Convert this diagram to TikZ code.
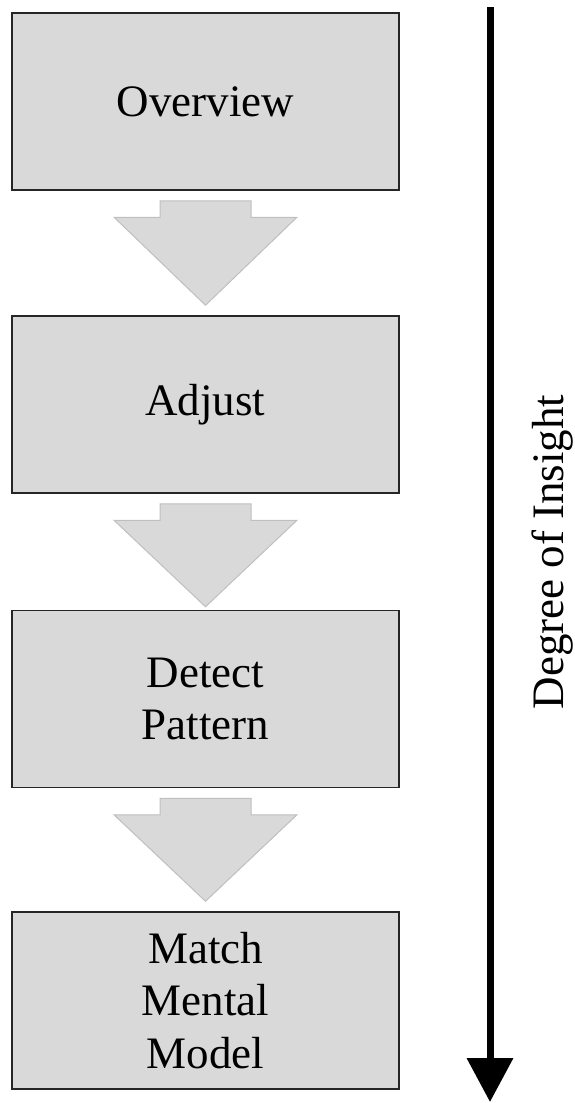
\documentclass[tikz,border=0pt]{standalone}
\usepackage{fontspec}
\setmainfont{Liberation Serif}
\usetikzlibrary{calc,arrows.meta}
\definecolor{boxfill}{HTML}{D9D9D9}
\definecolor{arrowedge}{HTML}{BFBFBF}
\tikzset{
  stagebox/.style={draw=black!85, line width=1.5pt, fill=boxfill,
    minimum width=387pt, minimum height=177pt, inner sep=0pt,
    align=center, font=\fontsize{45}{52.5}\selectfont},
  blockarr/.style={draw=arrowedge, line width=1pt, fill=boxfill, line join=miter},
  insight/.style={line width=7pt, -{Triangle[width=45pt,length=44pt]}},
  insightlabel/.style={font=\fontsize{45}{52.5}\selectfont, rotate=90, inner sep=0pt}
}
\newcommand\blockdown[3]{%
  \draw[blockarr]
    ($(#1.south)+(-45.5,10)$) -- ($(#1.south)+(45.5,10)$)
    -- ($(#1.south)+(45.5,26.5)$) -- ($(#1.south)+(91.5,26.5)$)
    -- ($(#2.north)+(0,-#3)$)
    -- ($(#1.south)+(-91.5,26.5)$) -- ($(#1.south)+(-45.5,26.5)$) -- cycle;}
\begin{document}
\begin{tikzpicture}[x=1pt,y=-1pt]
\useasboundingbox (0,0) rectangle (574,1103);
\node[stagebox] (o) at (205.5,101.5) {Overview};
\node[stagebox] (a) at (205.5,404.5) {Adjust};
\node[stagebox] (d) at (205.5,699) {Detect\\Pattern};
\node[stagebox] (m) at (205.5,1000.5) {Match\\Mental\\Model};
\blockdown{o}{a}{10}
\blockdown{a}{d}{3}
\blockdown{d}{m}{10}
\coordinate (itop) at (490,7);
\coordinate (ibot) at (490,1102);
\draw[insight] (itop) -- (ibot);
\node[insightlabel] (lbl) at (553,552) {Degree of Insight};
\end{tikzpicture}
\end{document}
